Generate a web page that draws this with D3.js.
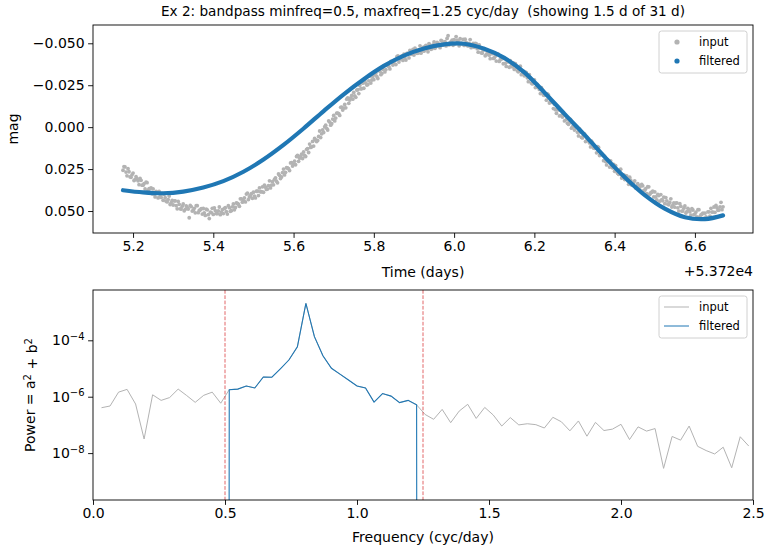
<!DOCTYPE html>
<html>

<head>
    <meta charset="utf-8">
    <title>Bandpass filter</title>
    <script src="https://cdn.jsdelivr.net/npm/d3@7"></script>
    <style>
        body { margin: 0; background: #fff; }
        text { font-family: "DejaVu Sans", sans-serif; fill: #000; }
    </style>
</head>

<body>
    <svg width="770" height="550" id="mainsvg"></svg>
    <script>
        // --- data ---
        // time is given as (MJD - 53720); input read every 0.005 d, two interleaved passes
        const timeOffsetLabel = '+5.372e4';
        const inputStep = 0.005;
        const inputStartA = 5.175;
        const inputMagA = [
            0.0257, 0.0237, 0.0290, 0.0266, 0.0299, 0.0274, 0.0313, 0.0307, 0.0343, 0.0317,
            0.0346, 0.0368, 0.0331, 0.0367, 0.0362, 0.0368, 0.0416, 0.0389, 0.0383, 0.0419,
            0.0436, 0.0421, 0.0446, 0.0411, 0.0450, 0.0464, 0.0439, 0.0487, 0.0460, 0.0488,
            0.0458, 0.0490, 0.0478, 0.0540, 0.0474, 0.0496, 0.0511, 0.0468, 0.0497, 0.0486,
            0.0485, 0.0526, 0.0493, 0.0545, 0.0510, 0.0520, 0.0498, 0.0516, 0.0476, 0.0508,
            0.0515, 0.0480, 0.0518, 0.0480, 0.0498, 0.0458, 0.0479, 0.0455, 0.0472, 0.0427,
            0.0438, 0.0446, 0.0394, 0.0416, 0.0396, 0.0388, 0.0422, 0.0382, 0.0362, 0.0385,
            0.0388, 0.0358, 0.0369, 0.0320, 0.0345, 0.0344, 0.0302, 0.0332, 0.0287, 0.0297,
            0.0250, 0.0269, 0.0243, 0.0259, 0.0212, 0.0221, 0.0224, 0.0168, 0.0185, 0.0161,
            0.0148, 0.0175, 0.0128, 0.0101, 0.0117, 0.0113, 0.0076, 0.0079, 0.0023, 0.0040,
            0.0032, -0.0012, 0.0017, -0.0030, -0.0021, -0.0070, -0.0054, -0.0083, -0.0070, -0.0120,
            -0.0114, -0.0115, -0.0175, -0.0162, -0.0190, -0.0207, -0.0178, -0.0223, -0.0248, -0.0230,
            -0.0232, -0.0263, -0.0254, -0.0304, -0.0281, -0.0283, -0.0323, -0.0290, -0.0333, -0.0320,
            -0.0365, -0.0343, -0.0366, -0.0347, -0.0391, -0.0379, -0.0373, -0.0425, -0.0405, -0.0425,
            -0.0435, -0.0400, -0.0439, -0.0458, -0.0434, -0.0430, -0.0455, -0.0441, -0.0485, -0.0457,
            -0.0453, -0.0488, -0.0449, -0.0487, -0.0468, -0.0508, -0.0481, -0.0499, -0.0474, -0.0513,
            -0.0496, -0.0484, -0.0545, -0.0504, -0.0518, -0.0522, -0.0540, -0.0514, -0.0527, -0.0497,
            -0.0487, -0.0506, -0.0484, -0.0522, -0.0486, -0.0476, -0.0498, -0.0447, -0.0472, -0.0441,
            -0.0468, -0.0432, -0.0441, -0.0408, -0.0438, -0.0412, -0.0394, -0.0435, -0.0402, -0.0411,
            -0.0409, -0.0362, -0.0389, -0.0396, -0.0360, -0.0344, -0.0357, -0.0330, -0.0363, -0.0322,
            -0.0306, -0.0325, -0.0271, -0.0293, -0.0258, -0.0282, -0.0239, -0.0240, -0.0200, -0.0222,
            -0.0189, -0.0161, -0.0192, -0.0150, -0.0149, -0.0137, -0.0083, -0.0103, -0.0103, -0.0060,
            -0.0037, -0.0047, -0.0017, -0.0046, -0.0002, 0.0017, -0.0002, 0.0052, 0.0030, 0.0064,
            0.0040, 0.0082, 0.0079, 0.0118, 0.0094, 0.0126, 0.0153, 0.0121, 0.0162, 0.0162,
            0.0173, 0.0225, 0.0203, 0.0201, 0.0242, 0.0263, 0.0252, 0.0281, 0.0251, 0.0294,
            0.0312, 0.0290, 0.0341, 0.0316, 0.0347, 0.0320, 0.0356, 0.0347, 0.0380, 0.0350,
            0.0376, 0.0396, 0.0356, 0.0390, 0.0382, 0.0386, 0.0434, 0.0408, 0.0402, 0.0439,
            0.0456, 0.0439, 0.0463, 0.0427, 0.0465, 0.0477, 0.0452, 0.0500, 0.0472, 0.0500,
            0.0470, 0.0504, 0.0494, 0.0525, 0.0494, 0.0518, 0.0535, 0.0492, 0.0523, 0.0512,
            0.0513, 0.0546, 0.0505, 0.0484, 0.0506, 0.0508, 0.0481, 0.0494, 0.0448, 0.0475
        ];
        const inputStartB = 5.1775;
        const inputMagB = [
            0.0235, 0.0268, 0.0248, 0.0296, 0.0284, 0.0318, 0.0295, 0.0320, 0.0306, 0.0346,
            0.0337, 0.0328, 0.0376, 0.0366, 0.0397, 0.0398, 0.0383, 0.0422, 0.0413, 0.0397,
            0.0400, 0.0441, 0.0432, 0.0461, 0.0437, 0.0440, 0.0468, 0.0443, 0.0487, 0.0471,
            0.0499, 0.0469, 0.0488, 0.0467, 0.0500, 0.0484, 0.0468, 0.0510, 0.0493, 0.0518,
            0.0511, 0.0489, 0.0522, 0.0506, 0.0484, 0.0481, 0.0515, 0.0499, 0.0522, 0.0492,
            0.0485, 0.0503, 0.0468, 0.0502, 0.0475, 0.0493, 0.0452, 0.0459, 0.0427, 0.0447,
            0.0422, 0.0399, 0.0432, 0.0408, 0.0424, 0.0411, 0.0382, 0.0408, 0.0385, 0.0356,
            0.0345, 0.0371, 0.0348, 0.0362, 0.0325, 0.0311, 0.0322, 0.0279, 0.0306, 0.0271,
            0.0285, 0.0242, 0.0247, 0.0213, 0.0232, 0.0203, 0.0175, 0.0204, 0.0175, 0.0187,
            0.0168, 0.0132, 0.0151, 0.0121, 0.0085, 0.0067, 0.0086, 0.0055, 0.0062, 0.0017,
            -0.0002, 0.0007, -0.0037, -0.0012, -0.0048, -0.0037, -0.0083, -0.0081, -0.0118, -0.0102,
            -0.0135, -0.0167, -0.0142, -0.0175, -0.0167, -0.0187, -0.0221, -0.0200, -0.0228, -0.0262,
            -0.0276, -0.0251, -0.0276, -0.0263, -0.0302, -0.0315, -0.0302, -0.0342, -0.0313, -0.0345,
            -0.0329, -0.0369, -0.0361, -0.0392, -0.0370, -0.0396, -0.0421, -0.0388, -0.0414, -0.0398,
            -0.0412, -0.0440, -0.0413, -0.0435, -0.0463, -0.0471, -0.0440, -0.0460, -0.0441, -0.0475,
            -0.0482, -0.0464, -0.0498, -0.0464, -0.0490, -0.0470, -0.0505, -0.0491, -0.0517, -0.0489,
            -0.0510, -0.0529, -0.0490, -0.0510, -0.0488, -0.0496, -0.0518, -0.0485, -0.0501, -0.0523,
            -0.0524, -0.0487, -0.0499, -0.0474, -0.0500, -0.0499, -0.0468, -0.0490, -0.0443, -0.0457,
            -0.0425, -0.0451, -0.0429, -0.0446, -0.0410, -0.0423, -0.0436, -0.0392, -0.0405, -0.0378,
            -0.0380, -0.0396, -0.0357, -0.0367, -0.0383, -0.0379, -0.0336, -0.0343, -0.0313, -0.0334,
            -0.0328, -0.0294, -0.0313, -0.0263, -0.0273, -0.0236, -0.0255, -0.0225, -0.0235, -0.0191,
            -0.0195, -0.0198, -0.0144, -0.0148, -0.0111, -0.0104, -0.0113, -0.0067, -0.0070, -0.0079,
            -0.0070, -0.0024, -0.0028, 0.0006, -0.0012, -0.0004, 0.0030, 0.0011, 0.0061, 0.0050,
            0.0086, 0.0066, 0.0094, 0.0083, 0.0125, 0.0120, 0.0116, 0.0169, 0.0164, 0.0200,
            0.0205, 0.0194, 0.0238, 0.0233, 0.0222, 0.0230, 0.0275, 0.0270, 0.0303, 0.0284,
            0.0289, 0.0320, 0.0298, 0.0345, 0.0331, 0.0363, 0.0337, 0.0359, 0.0342, 0.0378,
            0.0366, 0.0355, 0.0400, 0.0388, 0.0416, 0.0416, 0.0401, 0.0441, 0.0432, 0.0417,
            0.0420, 0.0459, 0.0449, 0.0476, 0.0452, 0.0453, 0.0481, 0.0456, 0.0500, 0.0483,
            0.0512, 0.0484, 0.0505, 0.0486, 0.0521, 0.0506, 0.0492, 0.0534, 0.0519, 0.0544,
            0.0535, 0.0505, 0.0530, 0.0506, 0.0476, 0.0467, 0.0496, 0.0475, 0.0492
        ];
        const filteredTime = [
            5.175, 5.225, 5.275, 5.325, 5.375, 5.425, 5.475, 5.525, 5.575, 5.625,
            5.675, 5.725, 5.775, 5.825, 5.875, 5.925, 5.975, 6.025, 6.075, 6.125,
            6.175, 6.225, 6.275, 6.325, 6.375, 6.425, 6.475, 6.525, 6.575, 6.625, 6.670
        ];
        const filteredMag = [
            0.0376, 0.0389, 0.0394, 0.0384, 0.0360, 0.0322, 0.0266, 0.0193, 0.0106, 0.0008,
            -0.0096, -0.0196, -0.0286, -0.0365, -0.0426, -0.0469, -0.0494, -0.0497, -0.0467, -0.0413,
            -0.0327, -0.0207, -0.0079, 0.0046, 0.0177, 0.0298, 0.0405, 0.0486, 0.0537, 0.0548, 0.0526
        ];

        // power spectrum, frequency grid k / 31 d
        const freqStep = 1 / 31;
        const inputPower = [
            4.07e-7, 4.68e-7, 1.45e-6, 1.82e-6, 5.50e-7, 3.16e-8, 1.17e-6, 7.41e-7, 9.33e-7, 1.86e-6,
            1.10e-6, 6.31e-7, 1.12e-6, 1.45e-6, 5.89e-7, 1.78e-6, 1.86e-6, 2.40e-6, 2.04e-6, 5.01e-6,
            4.90e-6, 9.77e-6, 2.00e-5, 5.89e-5, 2.04e-3, 1.35e-4, 2.82e-5, 1.02e-5, 6.31e-6, 3.89e-6,
            2.40e-6, 2.04e-6, 6.46e-7, 1.29e-6, 1.05e-6, 6.17e-7, 7.41e-7, 5.13e-7, 2.34e-7, 1.58e-7,
            3.55e-7, 1.20e-7, 3.09e-7, 5.37e-7, 1.70e-7, 4.17e-7, 2.24e-7, 9.12e-8, 1.82e-7, 1.00e-7,
            1.10e-7, 1.02e-7, 7.76e-8, 1.86e-7, 1.29e-7, 6.17e-8, 1.38e-7, 3.98e-8, 1.23e-7, 6.31e-8,
            7.08e-8, 1.05e-7, 3.02e-8, 8.51e-8, 6.03e-8, 7.41e-8, 2.88e-9, 3.89e-8, 2.88e-8, 9.12e-8,
            1.74e-8, 1.23e-8, 9.33e-9, 1.62e-8, 3.02e-9, 3.80e-8, 1.78e-8
        ];
        const minFreq = 0.5;
        const maxFreq = 1.25;

        const titleText = 'Ex 2: bandpass minfreq=0.5, maxfreq=1.25 cyc/day  (showing 1.5 d of 31 d)';
        const timeTicks = [5.2, 5.4, 5.6, 5.8, 6.0, 6.2, 6.4, 6.6];
        const magTicks = [-0.050, -0.025, 0.000, 0.025, 0.050];
        const freqTicks = [0, 0.5, 1.0, 1.5, 2.0, 2.5];
        const powerTicks = [1e-8, 1e-6, 1e-4];

        // --- layout ---
        const svg = d3.select('svg');
        const left = 93, right = 753;
        const top1 = 25, bottom1 = 233;
        const top2 = 290, bottom2 = 500;
        const tickLen = 4.9, tickPad = 3.5;
        const grey = '#b3b3b3', blue = '#1f77b4';

        const inputData = inputMagA.map((m, i) => ({ t: inputStartA + i * inputStep, m: m }))
            .concat(inputMagB.map((m, i) => ({ t: inputStartB + i * inputStep, m: m })));
        const filteredData = filteredTime.map((t, i) => ({ t: t, m: filteredMag[i] }));
        const spec = inputPower.map((p, i) => {
            const f = (i + 1) * freqStep;
            return { f: f, p: p, pf: (f >= minFreq && f <= maxFreq) ? p : 0 };
        });

        // x range padded 5% like matplotlib
        const tExt = d3.extent(inputData, d => d.t);
        const tPad = (tExt[1] - tExt[0]) * 0.05;
        const x1 = d3.scaleLinear().domain([tExt[0] - tPad, tExt[1] + tPad]).range([left, right]);
        const y1 = d3.scaleLinear().domain([-0.0609, 0.0631]).range([top1, bottom1]);   // inverted mag axis
        const x2 = d3.scaleLinear().domain([0, 2.5]).range([left, right]);
        const y2 = d3.scaleLog().domain([Math.pow(10, -9.663), Math.pow(10, -2.216)]).range([bottom2, top2]);

        const defs = svg.append('defs');
        defs.append('clipPath').attr('id', 'clip1').append('rect')
            .attr('x', left).attr('y', top1).attr('width', right - left).attr('height', bottom1 - top1);
        defs.append('clipPath').attr('id', 'clip2').append('rect')
            .attr('x', left).attr('y', top2).attr('width', right - left).attr('height', bottom2 - top2);

        // title
        svg.append('text').attr('x', (left + right) / 2).attr('y', 16)
            .attr('text-anchor', 'middle').attr('font-size', '13.6px')
            .style('white-space', 'pre').text(titleText);

        // ===== top panel =====
        const g1 = svg.append('g').attr('clip-path', 'url(#clip1)');
        g1.selectAll('.inDot').data(inputData).join('circle')
            .attr('class', 'inDot')
            .attr('cx', d => x1(d.t))
            .attr('cy', d => y1(d.m))
            .attr('r', 1.9)
            .attr('fill', grey);

        const magLine = d3.line().x(d => x1(d.t)).y(d => y1(d.m)).curve(d3.curveCatmullRom);
        g1.append('path').datum(filteredData)
            .attr('d', magLine)
            .attr('fill', 'none')
            .attr('stroke', blue)
            .attr('stroke-width', 4.2)
            .attr('stroke-linecap', 'round');

        svg.append('g').attr('transform', `translate(0,${bottom1})`)
            .call(d3.axisBottom(x1).tickValues(timeTicks).tickFormat(d3.format('.1f'))
                .tickSize(tickLen).tickPadding(tickPad).tickSizeOuter(0));
        svg.append('g').attr('transform', `translate(${left},0)`)
            .call(d3.axisLeft(y1).tickValues(magTicks).tickFormat(d3.format('.3f'))
                .tickSize(tickLen).tickPadding(tickPad).tickSizeOuter(0));

        svg.append('rect').attr('x', left).attr('y', top1)
            .attr('width', right - left).attr('height', bottom1 - top1)
            .attr('fill', 'none').attr('stroke', '#000').attr('stroke-width', 0.9);

        svg.append('text').attr('x', (left + right) / 2).attr('y', 277)
            .attr('text-anchor', 'middle').attr('font-size', '14px').text('Time (days)');
        svg.append('text').attr('x', right).attr('y', 276)
            .attr('text-anchor', 'end').attr('font-size', '14px').text(timeOffsetLabel);
        svg.append('text').attr('transform', `translate(18,${(top1 + bottom1) / 2}) rotate(-90)`)
            .attr('text-anchor', 'middle').attr('font-size', '14px').text('mag');

        // legend (top)
        const leg1 = svg.append('g').attr('transform', 'translate(659,31)');
        leg1.append('rect').attr('width', 88).attr('height', 42).attr('rx', 2.5)
            .attr('fill', '#fff').attr('fill-opacity', 0.8).attr('stroke', '#d0d0d0');
        [['input', grey], ['filtered', blue]].forEach((it, i) => {
            leg1.append('circle').attr('cx', 18).attr('cy', 11 + i * 19).attr('r', 2.6).attr('fill', it[1]);
            leg1.append('text').attr('x', 40).attr('y', 15 + i * 19).attr('font-size', '11.5px').text(it[0]);
        });

        // ===== bottom panel =====
        const g2 = svg.append('g').attr('clip-path', 'url(#clip2)');
        const powLine = key => d3.line().x(d => x2(d.f)).y(d => y2(Math.max(d[key], 1e-300)));
        g2.append('path').datum(spec)
            .attr('d', powLine('p'))
            .attr('fill', 'none').attr('stroke', grey).attr('stroke-width', 1);
        g2.append('path').datum(spec)
            .attr('d', powLine('pf'))
            .attr('fill', 'none').attr('stroke', blue).attr('stroke-width', 1.1);

        g2.selectAll('.band').data([minFreq, maxFreq]).join('line')
            .attr('class', 'band')
            .attr('x1', d => x2(d)).attr('x2', d => x2(d))
            .attr('y1', top2).attr('y2', bottom2)
            .attr('stroke', '#d62728').attr('stroke-opacity', 0.7)
            .attr('stroke-width', 1).attr('stroke-dasharray', '3.7,1.6');

        svg.append('g').attr('transform', `translate(0,${bottom2})`)
            .call(d3.axisBottom(x2).tickValues(freqTicks).tickFormat(d3.format('.1f'))
                .tickSize(tickLen).tickPadding(tickPad).tickSizeOuter(0));
        const ax2y = svg.append('g').attr('transform', `translate(${left},0)`)
            .call(d3.axisLeft(y2).tickValues(powerTicks).tickFormat(() => '')
                .tickSize(tickLen).tickPadding(tickPad).tickSizeOuter(0));
        ax2y.selectAll('.tick text').each(function (d) {
            const t = d3.select(this);
            t.append('tspan').text('10');
            t.append('tspan').attr('dy', '-0.55em').attr('font-size', '10px')
                .text('\u2212' + Math.round(-Math.log10(d)));
        });

        svg.append('rect').attr('x', left).attr('y', top2)
            .attr('width', right - left).attr('height', bottom2 - top2)
            .attr('fill', 'none').attr('stroke', '#000').attr('stroke-width', 0.9);

        svg.append('text').attr('x', (left + right) / 2).attr('y', 542)
            .attr('text-anchor', 'middle').attr('font-size', '14px').text('Frequency (cyc/day)');
        const ylab2 = svg.append('text')
            .attr('transform', `translate(35,${(top2 + bottom2) / 2}) rotate(-90)`)
            .attr('text-anchor', 'middle').attr('font-size', '14px');
        ylab2.append('tspan').text('Power = a');
        ylab2.append('tspan').attr('dy', '-0.45em').attr('font-size', '10px').text('2');
        ylab2.append('tspan').attr('dy', '0.45em').text(' + b');
        ylab2.append('tspan').attr('dy', '-0.45em').attr('font-size', '10px').text('2');

        // legend (bottom)
        const leg2 = svg.append('g').attr('transform', 'translate(659,296)');
        leg2.append('rect').attr('width', 88).attr('height', 42).attr('rx', 2.5)
            .attr('fill', '#fff').attr('fill-opacity', 0.8).attr('stroke', '#d0d0d0');
        [['input', grey], ['filtered', blue]].forEach((it, i) => {
            leg2.append('line').attr('x1', 5).attr('x2', 30).attr('y1', 11 + i * 19).attr('y2', 11 + i * 19)
                .attr('stroke', it[1]).attr('stroke-width', 1);
            leg2.append('text').attr('x', 40).attr('y', 15 + i * 19).attr('font-size', '11.5px').text(it[0]);
        });

        // axis styling like matplotlib
        svg.selectAll('.domain').remove();
        svg.selectAll('.tick line').attr('stroke', '#000').attr('stroke-width', 0.9);
        svg.selectAll('.tick text').attr('font-size', '14px').attr('font-family', '"DejaVu Sans", sans-serif').attr('fill', '#000');
    </script>
</body>

</html>
